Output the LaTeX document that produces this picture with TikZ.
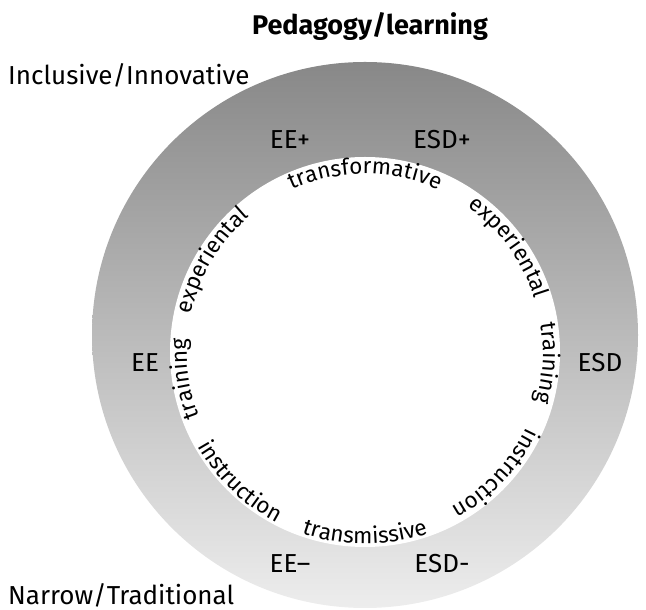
\documentclass[tikz,border=0pt]{standalone}
\usepackage{fontspec}
\setmainfont{Fira Sans}
\usetikzlibrary{decorations.text}
\definecolor{ringtop}{RGB}{136,136,136}
\definecolor{ringmid}{RGB}{170,170,170}
\definecolor{ringbot}{RGB}{237,237,237}
\newcommand{\arcfont}{\fontsize{22.5}{22.5}\selectfont}
\tikzset{
  bigfont/.style={font=\fontsize{26}{26}\selectfont, inner sep=0pt},
  arctext/.style={decorate, decoration={text along path, text align=center, text={|\arcfont|#1}}},
}

\begin{document}
\begin{tikzpicture}[x=1pt,y=1pt]
\useasboundingbox (0,0) rectangle (646,610);
% ring
\coordinate (outerc) at (365,275);
\coordinate (innerc) at (365,258);
\shade[top color=ringtop, middle color=ringmid, bottom color=ringbot] (outerc) circle[radius=273pt];
\fill[white] (innerc) circle[radius=195pt];
% headings
\node[bigfont, font=\fontsize{27}{27}\selectfont\bfseries, anchor=base] (title) at (370,575) {Pedagogy/learning};
\node[bigfont, anchor=base west] (inclusive) at (8,525) {Inclusive/Innovative};
\node[bigfont, anchor=base west] (narrow) at (8,5) {Narrow/Traditional};
% ring labels
\node[bigfont, anchor=base] (eeplus) at (290,461) {EE+};
\node[bigfont, anchor=base] (esdplus) at (442,461) {ESD+};
\node[bigfont, anchor=base] (ee) at (145,238) {EE};
\node[bigfont, anchor=base] (esd) at (600,238) {ESD};
\node[bigfont, anchor=base] (eeminus) at (290,37) {EE–};
\node[bigfont, anchor=base] (esdminus) at (442,37) {ESD-};
% texts along the inner edge, clockwise
\path[arctext={transformative}] (innerc) ++(135:178pt) arc[start angle=135, end angle=45, radius=178pt];
\path[arctext={experiental}] (innerc) ++(76:178pt) arc[start angle=76, end angle=-4, radius=178pt];
\path[arctext={training}] (innerc) ++(30:178pt) arc[start angle=30, end angle=-37, radius=178pt];
\path[arctext={instruction}] (innerc) ++(-3:178pt) arc[start angle=-3, end angle=-83, radius=178pt];
\path[arctext={experiental}] (innerc) ++(189:178pt) arc[start angle=189, end angle=109, radius=178pt];
\path[arctext={training}] (innerc) ++(221:178pt) arc[start angle=221, end angle=156, radius=178pt];
% texts along the inner edge, counter-clockwise
\path[arctext={instruction}] (innerc) ++(186:192pt) arc[start angle=186, end angle=266, radius=192pt];
\path[arctext={transmissive}] (innerc) ++(230:192pt) arc[start angle=230, end angle=310, radius=192pt];
\end{tikzpicture}
\end{document}
